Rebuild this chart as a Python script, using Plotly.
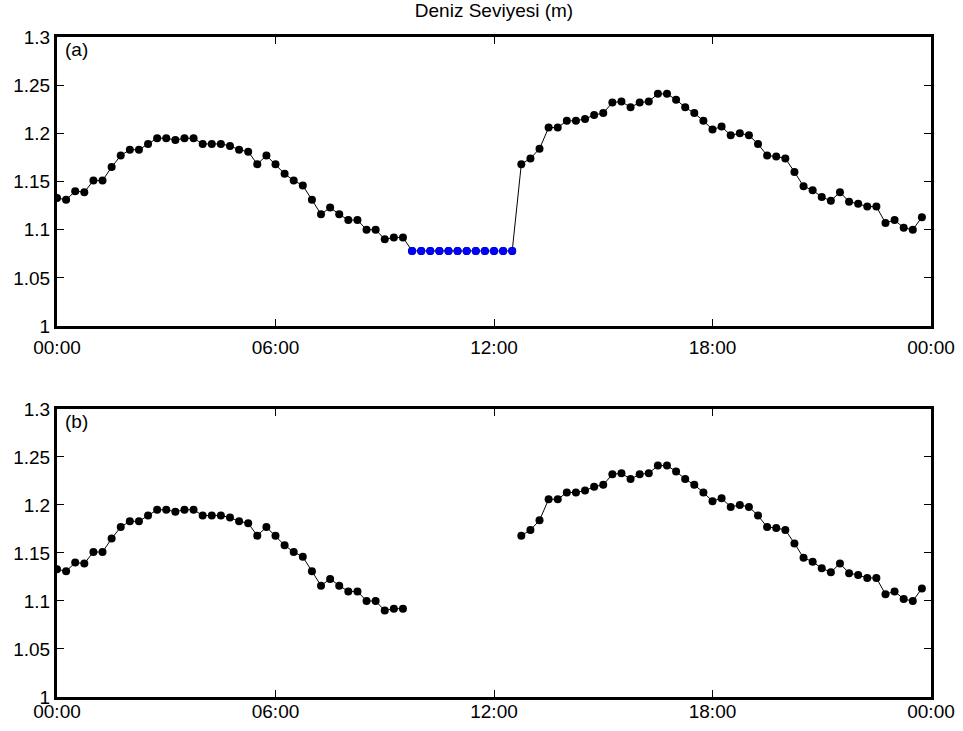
import numpy as np
import pandas as pd
import plotly.graph_objects as go
from plotly.subplots import make_subplots

# 15-minute samples over one day
times = pd.date_range("2000-01-01 00:00", periods=96, freq="15min")

sea_level = [
    1.133, 1.131, 1.140, 1.139, 1.151, 1.151, 1.165, 1.177, 1.183, 1.183,
    1.189, 1.195, 1.195, 1.193, 1.195, 1.195, 1.189, 1.189, 1.189, 1.187,
    1.183, 1.181, 1.168, 1.177, 1.168, 1.158, 1.151, 1.146, 1.131, 1.116,
    1.123, 1.116, 1.110, 1.110, 1.100, 1.100, 1.090, 1.092, 1.092,
    1.078, 1.078, 1.078, 1.078, 1.078, 1.078, 1.078, 1.078, 1.078, 1.078,
    1.078, 1.078,
    1.168, 1.174, 1.184, 1.206, 1.206, 1.213, 1.213, 1.215, 1.219, 1.221,
    1.232, 1.233, 1.227, 1.232, 1.233, 1.241, 1.241, 1.235, 1.227, 1.221,
    1.213, 1.204, 1.207, 1.198, 1.200, 1.198, 1.189, 1.177, 1.176, 1.174,
    1.160, 1.145, 1.141, 1.134, 1.130, 1.139, 1.129, 1.127, 1.124, 1.124,
    1.107, 1.110, 1.102, 1.100, 1.113,
]
# indices of filled (missing) samples
gap_start, gap_end = 39, 50

filled_mask = [gap_start <= i <= gap_end for i in range(len(sea_level))]
filled_times = [t for t, m in zip(times, filled_mask) if m]
filled_vals = [v for v, m in zip(sea_level, filled_mask) if m]
gapped_vals = [None if m else v for v, m in zip(sea_level, filled_mask)]

xticks_vals = pd.date_range("2000-01-01 00:00", periods=5, freq="6h")
xtick_text = ["00:00", "06:00", "12:00", "18:00", "00:00"]
ytick_vals = [1, 1.05, 1.1, 1.15, 1.2, 1.25, 1.3]
ytick_text = ["1", "1.05", "1.1", "1.15", "1.2", "1.25", "1.3"]

FONT = "Liberation Sans, Arial, sans-serif"
FS = 19

fig = make_subplots(rows=2, cols=1)

fig.add_trace(go.Scatter(
    x=times, y=sea_level, mode="lines+markers",
    line=dict(color="black", width=1),
    marker=dict(color="black", size=8),
    showlegend=False), row=1, col=1)
fig.add_trace(go.Scatter(
    x=filled_times, y=filled_vals, mode="markers",
    marker=dict(color="#0000ff", size=8),
    showlegend=False), row=1, col=1)
fig.add_trace(go.Scatter(
    x=times, y=gapped_vals, mode="lines+markers", connectgaps=False,
    line=dict(color="black", width=1),
    marker=dict(color="black", size=8),
    showlegend=False), row=2, col=1)

axis_common = dict(
    showline=True, linecolor="black", linewidth=3, mirror="ticks",
    ticks="inside", ticklen=7, tickwidth=1, tickcolor="black",
    showgrid=False, zeroline=False, automargin=False,
    tickfont=dict(family=FONT, size=FS, color="black"),
)

for r, dom, stand in ((1, [0.562, 1.0], 2), (2, [0.0, 0.4364], -5)):
    fig.update_xaxes(
        range=[xticks_vals[0], xticks_vals[-1]],
        tickvals=list(xticks_vals), ticktext=xtick_text,
        ticklabelstandoff=stand,
        **axis_common, row=r, col=1)
    fig.update_yaxes(
        range=[1, 1.3], tickvals=ytick_vals, ticktext=ytick_text,
        domain=dom, **axis_common, row=r, col=1)

for lab, xr, yr in (("(a)", "x domain", "y domain"), ("(b)", "x2 domain", "y2 domain")):
    fig.add_annotation(text=lab, xref=xr, yref=yr, x=0.007, y=1.0,
                       xanchor="left", yanchor="top", showarrow=False,
                       font=dict(family=FONT, size=FS, color="black"))

fig.update_layout(
    width=963, height=731,
    margin=dict(l=57, r=32, t=37, b=34, autoexpand=False),
    paper_bgcolor="white", plot_bgcolor="white",
    title=dict(text="Deniz Seviyesi (m)", x=0.5, xref="paper",
               y=1 - 10 / 731, yref="container", yanchor="middle",
               font=dict(family=FONT, size=FS, color="black")),
)

fig.write_html("out.html")
